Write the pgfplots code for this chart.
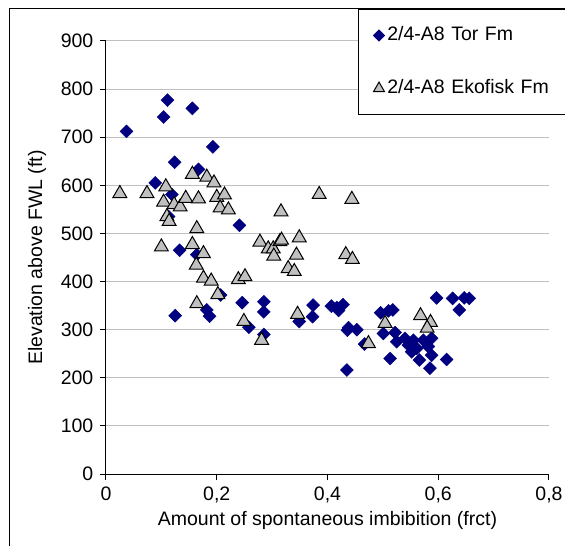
\documentclass[border=0pt]{standalone}
\usepackage{pgfplots}
\pgfplotsset{compat=1.18}
\usepackage{fontspec}
\setmainfont{Liberation Sans}
\definecolor{navyc}{RGB}{0,0,128}
\definecolor{silverc}{RGB}{192,192,192}
\definecolor{gridc}{RGB}{192,192,192}

\begin{document}
\fontsize{19.5}{23}\selectfont
\begin{tikzpicture}
\begin{axis}[
  at={(0pt,0pt)}, anchor=south west,
  scale only axis, width=443pt, height=433pt,
  xmin=0, xmax=0.8, ymin=0, ymax=900,
  xtick={0,0.2,0.4,0.6,0.8},
  ytick={0,100,200,300,400,500,600,700,800,900},
  axis x line=bottom, axis y line=left,
  axis line style={black, line width=1pt, -},
  tick align=outside, major tick length=6pt,
  tick style={black, line width=1pt},
  ymajorgrids, major grid style={gridc, line width=1pt},
  /pgf/number format/assume math mode=true,
  /pgf/number format/use comma,
  xticklabel style={/pgf/number format/fixed},
  xlabel={Amount of spontaneous imbibition (frct)},
  ylabel={Elevation above FWL (ft)},
  xlabel style={at={(axis description cs:0.5,-0.1062)}, anchor=center},
  ylabel style={at={(axis description cs:-0.1558,0.5)}, anchor=center, rotate=0},
  legend style={at={(axis description cs:0.5688,1.0739)}, anchor=north west,
    draw=black, line width=1pt, fill=white, inner xsep=15pt, inner ysep=17pt,
    row sep=35pt,
    nodes={inner xsep=2.8pt, inner ysep=0pt, text height=14pt, text depth=4pt, text width=180pt}},
  legend cell align=left,
]
% 2/4-A8 Tor Fm
\addplot[only marks, mark=square*, mark size=4.6pt,
  mark options={rotate=45, draw=navyc, fill=navyc}, forget plot] coordinates {
(0.037,712) (0.111,777) (0.104,742) (0.156,760) (0.193,680) (0.124,648)
(0.167,633) (0.089,605) (0.119,581) (0.241,517) (0.113,535) (0.133,465)
(0.164,456) (0.207,372) (0.125,329) (0.182,341) (0.187,328) (0.246,356)
(0.285,358) (0.285,337) (0.258,305) (0.285,290) (0.349,317) (0.374,351)
(0.373,327) (0.407,349) (0.417,346) (0.428,352) (0.420,340) (0.438,304)
(0.453,300) (0.436,299) (0.435,216) (0.467,270) (0.496,335) (0.510,339)
(0.518,341) (0.501,292) (0.522,294) (0.525,275) (0.540,282) (0.546,268)
(0.555,278) (0.561,261) (0.552,254) (0.573,278) (0.588,282) (0.582,265)
(0.513,240) (0.566,237) (0.588,247) (0.585,220) (0.615,238) (0.597,366)
(0.626,365) (0.638,341) (0.647,366) (0.656,365)
};
% 2/4-A8 Ekofisk Fm
\addplot[only marks, mark=triangle*, mark size=8pt,
  mark options={draw=black, fill=silverc, line width=1pt}, forget plot] coordinates {
(0.025,583) (0.074,583) (0.108,597) (0.104,565) (0.123,560) (0.134,555)
(0.144,573) (0.167,572) (0.156,623) (0.182,617) (0.195,605) (0.200,575)
(0.214,580) (0.206,553) (0.221,549) (0.110,535) (0.114,525) (0.164,510)
(0.316,545) (0.100,472) (0.156,477) (0.176,458) (0.163,434) (0.176,407)
(0.190,401) (0.239,404) (0.251,410) (0.278,482) (0.293,468) (0.302,468)
(0.303,453) (0.314,483) (0.202,373) (0.164,354) (0.249,317) (0.281,278)
(0.385,581) (0.444,571) (0.317,486) (0.349,491) (0.344,455) (0.329,427)
(0.340,421) (0.433,456) (0.445,446) (0.346,332) (0.474,271) (0.504,313)
(0.568,329) (0.586,315) (0.580,303)
};
\addlegendimage{only marks, mark=square*, mark size=3.9pt,
  mark options={rotate=45, draw=navyc, fill=navyc}}
\addlegendentry{2/4-A8 Tor Fm}
\addlegendimage{only marks, mark=triangle*, mark size=6.4pt,
  mark options={draw=black, fill=silverc, line width=1pt}}
\addlegendentry{2/4-A8 Ekofisk Fm}
\end{axis}
\draw[line width=1pt] (-96pt,-90pt) -- (-96pt,465pt) -- (480pt,465pt);
\pgfresetboundingbox
\path[use as bounding box] (-106pt,-72pt) rectangle (459pt,474pt);
\end{tikzpicture}
\end{document}
